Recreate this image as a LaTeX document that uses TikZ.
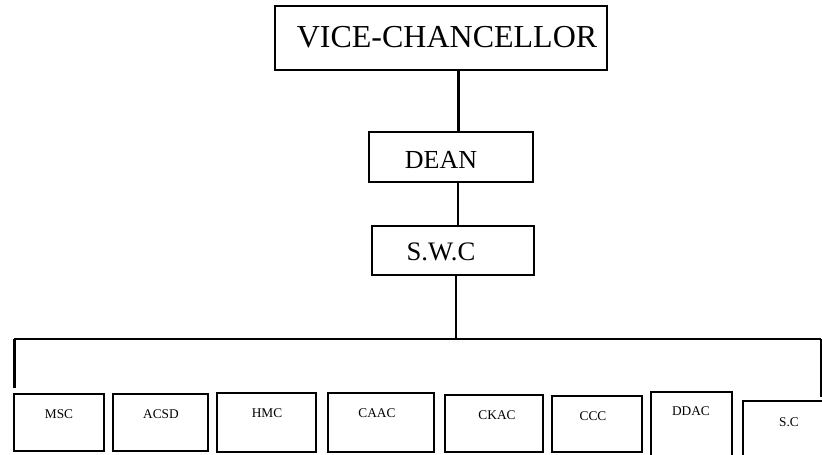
\documentclass[tikz,border=0pt]{standalone}
\usepackage{fontspec}
\setmainfont{Liberation Serif}
\newlength\upx
\setlength\upx{0.75pt}
\begin{document}
\begin{tikzpicture}[x=0.75pt,y=-0.75pt,
  box/.style={draw,line width=1.6\upx,inner sep=0pt},
  lbl/.style={anchor=base,inner sep=0pt},
  conn/.style={line width=1.6\upx},
  thickconn/.style={line width=3\upx}]
\useasboundingbox (0,0) rectangle (822,454);
\clip (0,0) rectangle (822,454);
% boxes
\node[box,minimum width=332\upx,minimum height=64\upx] (VC) at (441,38) {};
\node[box,minimum width=164\upx,minimum height=50\upx] (DEAN) at (451,157) {};
\node[box,minimum width=162\upx,minimum height=49\upx] (SWC) at (453,250.5) {};
\node[box,minimum width=90\upx,minimum height=57\upx] (MSC) at (59,422.5) {};
\node[box,minimum width=95\upx,minimum height=57\upx] (ACSD) at (160.5,422.5) {};
\node[box,minimum width=99\upx,minimum height=59\upx] (HMC) at (266.5,422.5) {};
\node[box,minimum width=106\upx,minimum height=59\upx] (CAAC) at (381,422.5) {};
\node[box,minimum width=98\upx,minimum height=57\upx] (CKAC) at (494,423.5) {};
\node[box,minimum width=90\upx,minimum height=56\upx] (CCC) at (597,424) {};
\node[box,minimum width=81\upx,minimum height=78\upx] (DDAC) at (691.5,431) {};
\node[box,minimum width=87\upx,minimum height=69\upx] (SC) at (786.5,435.5) {};
% labels
\node[lbl,font=\fontsize{24pt}{28pt}\selectfont] (tVC) at (447,47) {VICE-CHANCELLOR};
\node[lbl,font=\fontsize{19.5pt}{23pt}\selectfont] (tDEAN) at (441,168.3) {DEAN};
\node[lbl,font=\fontsize{20pt}{24pt}\selectfont] (tSWC) at (441,260) {S.W.C};
\tikzset{small/.style={lbl,font=\fontsize{10pt}{12pt}\selectfont}}
\node[small] (tMSC) at (59,418) {MSC};
\node[small] (tACSD) at (161,418) {ACSD};
\node[small] (tHMC) at (267,417) {HMC};
\node[small] (tCAAC) at (377,417) {CAAC};
\node[small] (tCKAC) at (497,419) {CKAC};
\node[small] (tCCC) at (593,420) {CCC};
\node[small] (tDDAC) at (691,415) {DDAC};
\node[small] (tSC) at (789,426) {S.C};
% connectors
\coordinate (trunk) at (458,0);
\coordinate (stem) at (456,339);
\coordinate (busL) at (14,339);
\coordinate (busR) at (821,339);
\coordinate (dropL) at (14,388);
\coordinate (dropR) at (821,397);
\draw[thickconn] (trunk |- VC.south) -- (trunk |- DEAN.north);
\draw[conn] (trunk |- DEAN.south) -- (trunk |- SWC.north);
\draw[conn] (stem |- SWC.south) -- (stem);
\draw[conn] (busL) -- (busR);
\draw[thickconn] (busL) -- (dropL);
\draw[line width=2.2\upx] (busR) -- (dropR);
\end{tikzpicture}
\end{document}
